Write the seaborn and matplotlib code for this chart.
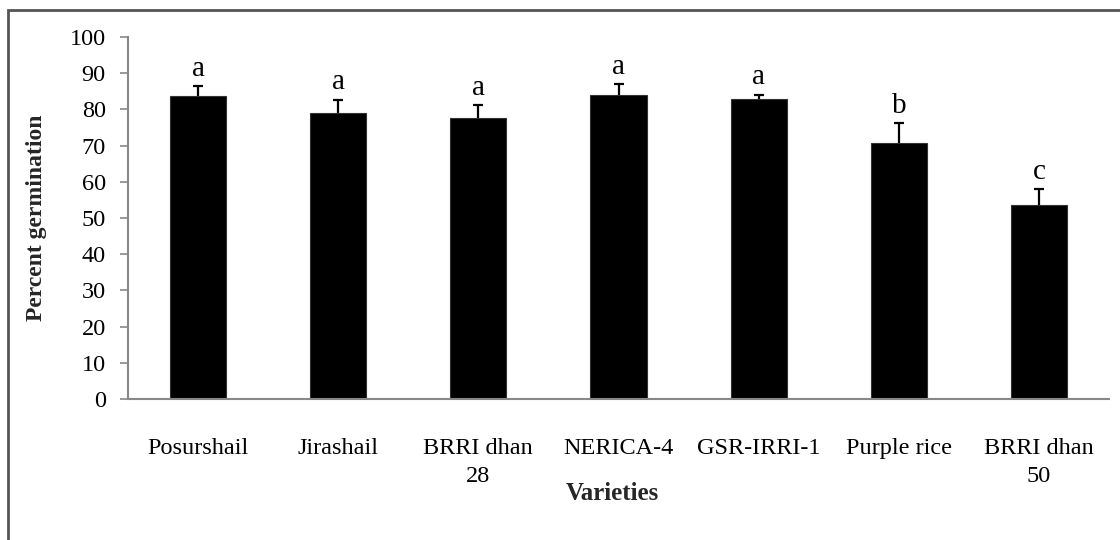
import matplotlib
matplotlib.use("Agg")
import matplotlib.pyplot as plt
import seaborn as sns
import pandas as pd
from matplotlib.patches import Rectangle

varieties = ["Posurshail", "Jirashail", "BRRI dhan\n28", "NERICA-4", "GSR-IRRI-1", "Purple rice", "BRRI dhan\n50"]
germination = [83.8, 79.0, 77.6, 84.1, 83.0, 70.7, 53.5]
errors = [2.6, 3.7, 3.6, 3.0, 1.1, 5.5, 4.6]
letters = ["a", "a", "a", "a", "a", "b", "c"]

sns.set_style("white")
plt.rcParams["font.family"] = ["Liberation Serif", "DejaVu Serif"]

df = pd.DataFrame({"Variety": varieties, "Germination": germination})

fig = plt.figure(figsize=(11.2, 5.4), dpi=100)
ax = fig.add_axes([128/1120, 1-399/540, (1109-128)/1120, (399-37)/540])

sns.barplot(data=df, x="Variety", y="Germination", color="black", edgecolor="#333333",
            linewidth=0.8, width=0.4, saturation=1, errorbar=None, ax=ax)

_, caps, _ = ax.errorbar(range(len(varieties)), germination, yerr=[[0]*len(errors), errors],
                         fmt="none", ecolor="black", elinewidth=1.6, capsize=3.5, capthick=1.6)
if len(caps) == 2:
    caps[0].set_visible(False)

for i, (m, e, l) in enumerate(zip(germination, errors, letters)):
    ax.annotate(l, xy=(i, m + e), xytext=(0, 3), textcoords="offset points",
                ha="center", va="bottom", fontsize=21, color="black")

ax.set_ylim(0, 100)
ax.set_xlim(-0.5, len(varieties) - 0.5)
ax.set_yticks(range(0, 101, 10))
ax.tick_params(axis="y", which="both", left=True, length=6, width=1.2, color="#888888",
               labelsize=17.5, pad=10, labelcolor="black")
ax.tick_params(axis="x", length=0, labelsize=17.5, pad=28, labelcolor="black")
for lbl in ax.get_xticklabels():
    lbl.set_linespacing(1.45)

for s in ["top", "right"]:
    ax.spines[s].set_visible(False)
for s in ["left", "bottom"]:
    ax.spines[s].set_color("#888888")
    ax.spines[s].set_linewidth(1.5)

ax.set_xlabel("Varieties", fontsize=18, fontweight="bold")
ax.xaxis.set_label_coords(0.494, -0.228)
ax.set_ylabel("Percent germination", fontsize=17, fontweight="bold")
ax.yaxis.set_label_coords(-0.093, 0.5)
ax.yaxis.label.set_va("center")

fig.patches.append(Rectangle((8/1120, -0.1), 1.2, 1 - 10/540 + 0.1, transform=fig.transFigure,
                             fill=False, edgecolor="#555555", linewidth=2, zorder=0))

fig.savefig("out.png", dpi=100, facecolor="white")
